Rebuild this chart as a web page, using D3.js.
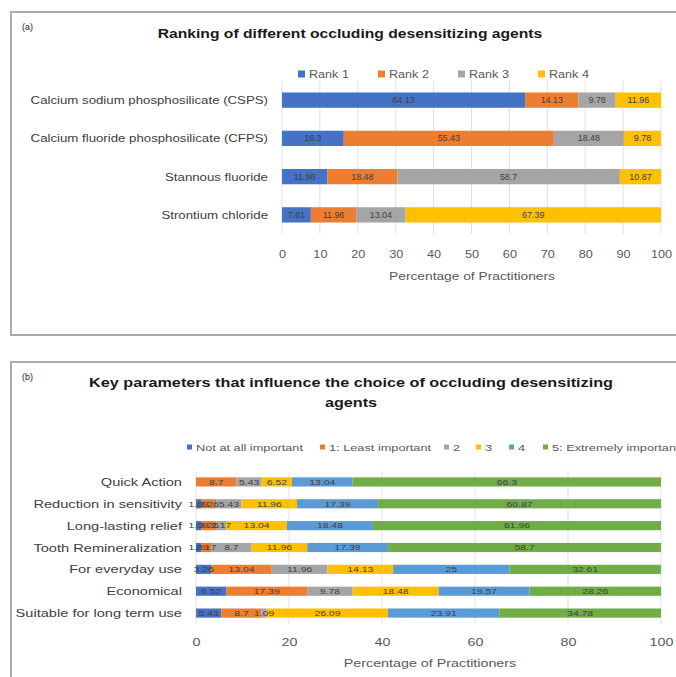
<!DOCTYPE html>
<html><head><meta charset="utf-8">
<script src="https://cdn.jsdelivr.net/npm/d3@7"></script>
<style>
body{margin:0;background:#fff}
text{font-family:"Liberation Sans",Arial,sans-serif}
</style>
</head><body>
<svg id="chart" width="676" height="677"></svg>
<script>
// Panel (a): ranking of occluding desensitizing agents
const agents = ["Calcium sodium phosphosilicate (CSPS)", "Calcium fluoride phosphosilicate (CFPS)", "Stannous fluoride", "Strontium chloride"];
const rankNames = ["Rank 1", "Rank 2", "Rank 3", "Rank 4"];
const rank1 = [64.13, 16.3, 11.96, 7.61];
const rank2 = [14.13, 55.43, 18.48, 11.96];
const rank3 = [9.78, 18.48, 58.7, 13.04];
const rank4 = [11.96, 9.78, 10.87, 67.39];
const rankColors = ["#4472C4", "#ED7D31", "#A5A5A5", "#FFC000"];
const rankTicks = [0, 10, 20, 30, 40, 50, 60, 70, 80, 90, 100];

// Panel (b): key parameters influencing the choice
const params = ["Quick Action", "Reduction in sensitivity", "Long-lasting relief", "Tooth Remineralization", "For everyday use", "Economical", "Suitable for long term use"];
const importanceNames = ["Not at all important", "1: Least important", "2", "3", "4", "5: Extremely important"];
const notAtAll = [0, 1.09, 1.09, 1.09, 3.26, 6.52, 5.43];
const least = [8.7, 3.26, 3.26, 2.17, 13.04, 17.39, 8.7];
const level2 = [5.43, 5.43, 2.17, 8.7, 11.96, 9.78, 1.09];
const level3 = [6.52, 11.96, 13.04, 11.96, 14.13, 18.48, 26.09];
const level4 = [13.04, 17.39, 18.48, 17.39, 25, 19.57, 23.91];
const extreme = [66.3, 60.87, 61.96, 58.7, 32.61, 28.26, 34.78];
const importanceColors = ["#4472C4", "#ED7D31", "#A5A5A5", "#FFC000", "#5B9BD5", "#70AD47"];
const importanceTicks = [0, 20, 40, 60, 80, 100];

const svg = d3.select("#chart");

// widen text horizontally while keeping its height
function stretch(sel, k) {
  sel.each(function () {
    const L = this.getComputedTextLength();
    d3.select(this).attr("textLength", L * k).attr("lengthAdjust", "spacingAndGlyphs");
  });
}

function panel(cfg) {
  const g = svg.append("g");
  const k = cfg.k;
  // frame
  g.append("rect").attr("x", cfg.frame[0]).attr("y", cfg.frame[1])
    .attr("width", cfg.frame[2]).attr("height", cfg.frame[3])
    .attr("fill", "#fff").attr("stroke", "#ababab").attr("stroke-width", 2);
  g.append("text").attr("x", 22).attr("y", cfg.frame[1] + 18)
    .attr("font-size", 9).attr("fill", "#262626").text(cfg.tag);
  cfg.title.forEach((t, i) => {
    g.append("text").attr("x", cfg.titleX).attr("y", cfg.titleY + i * 20)
      .attr("text-anchor", "middle").attr("font-size", cfg.titleSize)
      .attr("font-weight", "bold").attr("fill", "#1a1a1a").text(t)
      .call(stretch, k.title);
  });

  const x = d3.scaleLinear().domain([0, 100]).range(cfg.xRange);
  const y = d3.scaleBand().domain(cfg.cats).range(cfg.yRange).paddingInner(cfg.pad).paddingOuter(cfg.pad / 2);

  // gridlines
  g.append("g").selectAll("line").data(cfg.ticks).join("line")
    .attr("x1", d => x(d)).attr("x2", d => x(d))
    .attr("y1", cfg.yRange[0]).attr("y2", cfg.yRange[1])
    .attr("stroke", "#d9d9d9").attr("stroke-width", 0.8);

  // axis
  const axis = g.append("g").attr("transform", `translate(0,${cfg.yRange[1]})`)
    .call(d3.axisBottom(x).tickValues(cfg.ticks).tickSize(0).tickPadding(cfg.tickPad));
  axis.select(".domain").remove();
  axis.selectAll("text").attr("font-size", cfg.tickSize).attr("fill", "#595959")
    .style("font-family", '"Liberation Sans",Arial,sans-serif')
    .call(stretch, k.tick);

  g.append("text").attr("x", cfg.axisTitleX).attr("y", cfg.axisTitleY)
    .attr("text-anchor", "middle").attr("font-size", cfg.axisTitleSize).attr("fill", "#595959")
    .text("Percentage of Practitioners").call(stretch, k.axisTitle);

  // category labels
  g.append("g").selectAll("text").data(cfg.cats).join("text")
    .attr("x", cfg.catX).attr("y", d => y(d) + y.bandwidth() / 2)
    .attr("dy", "0.35em").attr("text-anchor", "end")
    .attr("font-size", cfg.catSize).attr("fill", "#404040").text(d => d)
    .call(stretch, k.cat);

  // stacked bars
  const rows = cfg.cats.map((c, i) => {
    const r = {cat: c};
    cfg.names.forEach((n, j) => r[n] = cfg.series[j][i]);
    return r;
  });
  const stack = d3.stack().keys(cfg.names)(rows);
  const color = d3.scaleOrdinal().domain(cfg.names).range(cfg.colors);
  const layers = g.append("g").selectAll("g").data(stack).join("g")
    .attr("fill", d => color(d.key));
  layers.selectAll("rect").data(d => d).join("rect")
    .attr("x", d => x(d[0])).attr("width", d => Math.max(0, x(d[1]) - x(d[0])))
    .attr("y", d => y(d.data.cat)).attr("height", y.bandwidth());

  // value labels
  const lab = g.append("g");
  stack.forEach(layer => {
    layer.forEach(d => {
      const raw = d.data[layer.key];
      if (!raw) return;
      lab.append("text").attr("x", x((d[0] + d[1]) / 2))
        .attr("y", y(d.data.cat) + y.bandwidth() / 2).attr("dy", "0.35em")
        .attr("text-anchor", "middle").attr("font-size", cfg.labelSize)
        .attr("fill", "#404040").text(raw);
    });
  });
  lab.selectAll("text").call(stretch, k.label);

  // legend
  const leg = g.append("g");
  cfg.names.forEach((n, i) => {
    const lx = cfg.legendX[i];
    leg.append("rect").attr("x", lx).attr("y", cfg.legendY - cfg.legendBox / 2 - 1)
      .attr("width", cfg.legendBox).attr("height", cfg.legendBox).attr("fill", cfg.colors[i]);
    leg.append("text").attr("x", lx + cfg.legendBox + 4).attr("y", cfg.legendY).attr("dy", "0.3em")
      .attr("font-size", cfg.legendSize).attr("fill", "#595959").text(n)
      .call(stretch, k.legend);
  });
}

panel({
  frame: [11, 12, 700, 323], tag: "(a)",
  title: ["Ranking of different occluding desensitizing agents"], titleX: 350, titleY: 38, titleSize: 13.5,
  cats: agents, names: rankNames, colors: rankColors,
  series: [rank1, rank2, rank3, rank4], ticks: rankTicks,
  xRange: [282, 661], yRange: [81, 234], pad: 0.6,
  tickPad: 16, tickSize: 11, axisTitleX: 472, axisTitleY: 280, axisTitleSize: 11,
  catX: 268, catSize: 11.5, labelSize: 8.5,
  legendX: [298, 378, 458, 538], legendY: 75, legendBox: 7, legendSize: 10.5,
  k: {title: 1.16, tick: 1.15, axisTitle: 1.25, cat: 1.15, label: 1.05, legend: 1.2}
});

panel({
  frame: [11, 362, 700, 400], tag: "(b)",
  title: ["Key parameters that influence the choice of occluding desensitizing", "agents"], titleX: 351, titleY: 387, titleSize: 13.5,
  cats: params, names: importanceNames, colors: importanceColors,
  series: [notAtAll, least, level2, level3, level4, extreme], ticks: importanceTicks,
  xRange: [196, 661], yRange: [471, 624], pad: 0.58,
  tickPad: 14, tickSize: 11, axisTitleX: 430, axisTitleY: 667, axisTitleSize: 11,
  catX: 182, catSize: 11.5, labelSize: 8,
  legendX: [187, 320, 444, 476, 509, 543], legendY: 448, legendBox: 5, legendSize: 8.5,
  k: {title: 1.2, tick: 1.3, axisTitle: 1.3, cat: 1.27, label: 1.3, legend: 1.5}
});
</script>
</body></html>
